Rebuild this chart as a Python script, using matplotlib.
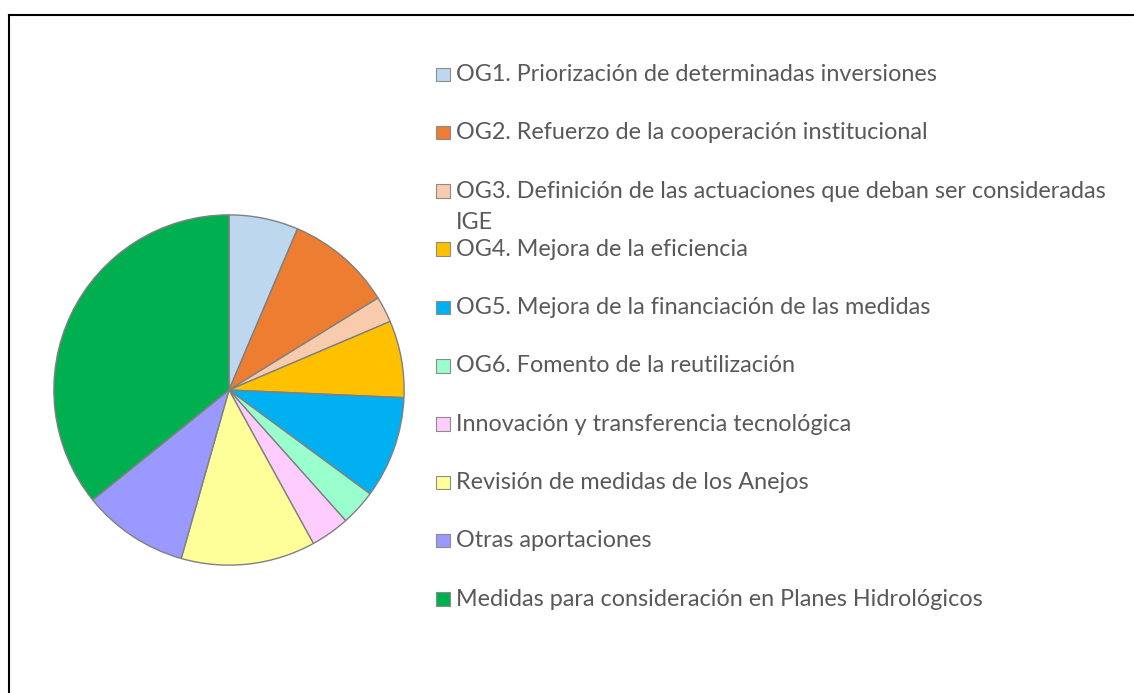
import matplotlib.pyplot as plt
from matplotlib.patches import Rectangle
from matplotlib.lines import Line2D

labels = [
    "OG1. Priorización de determinadas inversiones",
    "OG2. Refuerzo de la cooperación institucional",
    "OG3. Definición de las actuaciones que deban ser consideradas\nIGE",
    "OG4. Mejora de la eficiencia",
    "OG5. Mejora de la financiación de las medidas",
    "OG6. Fomento de la reutilización",
    "Innovación y transferencia tecnológica",
    "Revisión de medidas de los Anejos",
    "Otras aportaciones",
    "Medidas para consideración en Planes Hidrológicos",
]
values = [6.4, 9.8, 2.4, 7.1, 9.4, 3.3, 3.6, 12.4, 9.8, 35.8]
colors = ["#BDD7EE", "#ED7D31", "#F8CBAD", "#FFC000", "#00B0F0",
          "#99FFCC", "#FFCCFF", "#FFFF99", "#9999FF", "#00B050"]

W, H = 1134, 693
fig = plt.figure(figsize=(W / 100, H / 100), dpi=100)

# pie centred at (229, 390) px, radius 176 px
cx, cy, r = 229, 390, 176
ax = fig.add_axes([(cx - r) / W, (H - cy - r) / H, 2 * r / W, 2 * r / H])
ax.pie(values, colors=colors, startangle=90, counterclock=False,
       wedgeprops=dict(edgecolor="#808080", linewidth=1.0))
ax.set_xlim(-1.005, 1.005)
ax.set_ylim(-1.005, 1.005)
ax.set_aspect("equal")

# legend drawn by hand to keep Excel-like spacing
for i, (lab, col) in enumerate(zip(labels, colors)):
    base = 81 + 58.3 * i
    fig.patches.append(Rectangle((436 / W, (H - base) / H), 14 / W, 13.5 / H,
                                 transform=fig.transFigure, facecolor=col,
                                 edgecolor="#8C8C8C", linewidth=0.8))
    lines = lab.split("\n")
    for j, t in enumerate(lines):
        fig.text(456 / W, (H - base - 31 * j) / H, t, fontsize=16.8,
                 family="Lato", color="#595959", va="baseline", ha="left")

# frame lines (top and left)
fig.add_artist(Line2D([8.5 / W, 1], [(H - 14.5) / H] * 2, color="black", lw=1.5))
fig.add_artist(Line2D([8.5 / W] * 2, [0, (H - 14.5) / H], color="black", lw=1.5))

fig.savefig("out.png", dpi=100)
